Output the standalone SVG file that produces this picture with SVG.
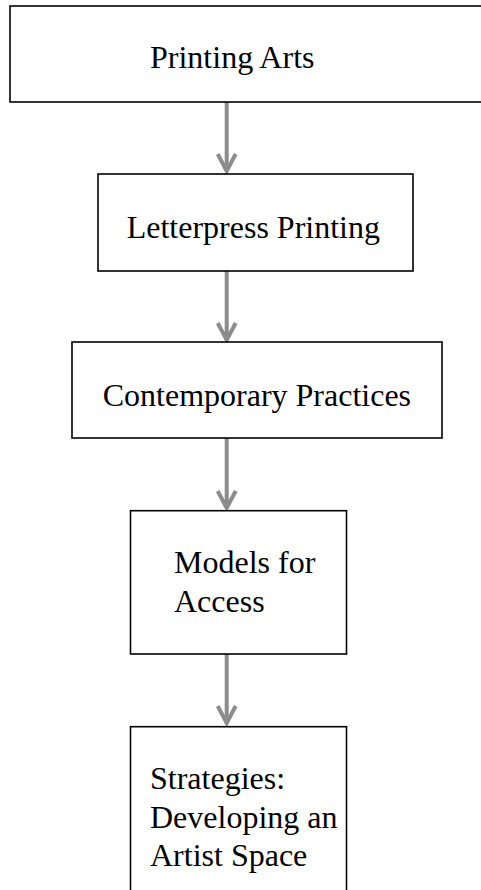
<svg xmlns="http://www.w3.org/2000/svg" width="481" height="890" viewBox="0 0 481 890">
  <defs>
    <style>
      .box { fill: #ffffff; stroke: #000000; stroke-width: 1.6; }
      .label { font-family: "Liberation Serif", "Times New Roman", serif; font-size: 32px; fill: #000000; }
      .link { fill: none; stroke: #8c8c8c; stroke-width: 4; }
      .head { fill: none; stroke: #8c8c8c; stroke-width: 4; stroke-linejoin: miter; }
    </style>
  </defs>
  <rect width="481" height="890" fill="#ffffff"/>

  <!-- connectors: vertical shafts with open chevron heads -->
  <g id="connectors">
    <line class="link" x1="226.7" y1="102" x2="226.7" y2="171"/>
    <polyline class="head" points="217.7,154 226.7,171 235.7,154"/>
    <line class="link" x1="226.7" y1="271" x2="226.7" y2="340"/>
    <polyline class="head" points="217.7,323 226.7,340 235.7,323"/>
    <line class="link" x1="226.7" y1="438" x2="226.7" y2="508"/>
    <polyline class="head" points="217.7,491 226.7,508 235.7,491"/>
    <line class="link" x1="226.7" y1="654" x2="226.7" y2="723"/>
    <polyline class="head" points="217.7,706 226.7,723 235.7,706"/>
  </g>

  <g id="node-printing-arts">
    <rect class="box" x="10" y="6" width="490" height="96"/>
    <text class="label" x="150" y="68">Printing Arts</text>
  </g>

  <g id="node-letterpress">
    <rect class="box" x="98" y="174" width="315" height="97"/>
    <text class="label" x="126.7" y="238">Letterpress Printing</text>
  </g>

  <g id="node-contemporary">
    <rect class="box" x="72" y="342" width="370" height="96"/>
    <text class="label" x="102.7" y="406">Contemporary Practices</text>
  </g>

  <g id="node-models">
    <rect class="box" x="130.5" y="510.7" width="216" height="143.3"/>
    <text class="label" x="174" y="573.3">Models for</text>
    <text class="label" x="174" y="611.7">Access</text>
  </g>

  <g id="node-strategies">
    <rect class="box" x="130.5" y="726.7" width="216" height="180"/>
    <text class="label" x="150" y="789.3">Strategies:</text>
    <text class="label" x="150" y="827.7">Developing an</text>
    <text class="label" x="150" y="865.7">Artist Space</text>
  </g>
</svg>
